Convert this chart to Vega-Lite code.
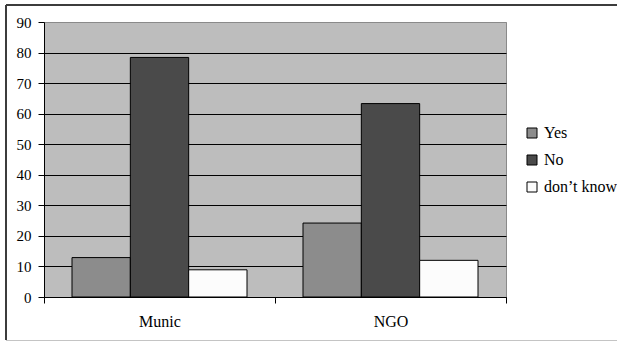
{
  "$schema": "https://vega.github.io/schema/vega-lite/v6.json",
  "width": 462,
  "height": 275,
  "autosize": {"type": "none"},
  "padding": {"left": 44, "top": 22, "right": 111, "bottom": 44},
  "background": "white",
  "config": {
    "font": "Liberation Serif, serif",
    "axis": {"labelFont": "Liberation Serif, serif"},
    "legend": {"labelFont": "Liberation Serif, serif", "labelLimit": 200},
    "view": {"fill": "#bdbdbd", "stroke": "#8a8a8a", "strokeWidth": 1}
  },
  "data": {
    "values": [
      {"group": "Munic", "answer": "Yes", "percent": 12.9},
      {"group": "Munic", "answer": "No", "percent": 78.4},
      {"group": "Munic", "answer": "don’t know", "percent": 8.9},
      {"group": "NGO", "answer": "Yes", "percent": 24.2},
      {"group": "NGO", "answer": "No", "percent": 63.3},
      {"group": "NGO", "answer": "don’t know", "percent": 12.0}
    ]
  },
  "layer": [
    {
      "mark": {"type": "bar", "stroke": "black", "strokeWidth": 1},
      "encoding": {
        "x": {
          "field": "group",
          "type": "nominal",
          "sort": ["Munic", "NGO"],
          "scale": {"paddingInner": 0, "paddingOuter": 0},
          "axis": {
            "title": null,
            "labelAngle": 0,
            "labelFontSize": 16,
            "labelColor": "black",
            "labelPadding": 10,
            "tickBand": "extent",
            "tickSize": 6,
            "tickColor": "black",
            "domainColor": "black",
            "grid": false
          }
        },
        "xOffset": {
          "field": "answer",
          "type": "nominal",
          "sort": ["Yes", "No", "don’t know"],
          "scale": {"paddingInner": 0, "paddingOuter": 0.48}
        },
        "y": {
          "field": "percent",
          "type": "quantitative",
          "scale": {"domain": [0, 90], "nice": false},
          "axis": {
            "title": null,
            "values": [0, 10, 20, 30, 40, 50, 60, 70, 80, 90],
            "labelFontSize": 15,
            "labelColor": "black",
            "labelPadding": 7,
            "tickSize": 6,
            "tickColor": "black",
            "domainColor": "black",
            "grid": true,
            "gridColor": {"condition": {"test": "datum.value >= 90", "value": "#8a8a8a"}, "value": "black"},
            "gridWidth": 1,
            "gridOpacity": 1
          }
        },
        "color": {
          "field": "answer",
          "type": "nominal",
          "sort": ["Yes", "No", "don’t know"],
          "scale": {
            "domain": ["Yes", "No", "don’t know"],
            "range": ["#8c8c8c", "#4a4a4a", "#fcfcfc"]
          },
          "legend": {
            "title": null,
            "orient": "none",
            "legendX": 480,
            "legendY": 103,
            "symbolType": "square",
            "symbolSize": 100,
            "symbolStrokeColor": "black",
            "symbolStrokeWidth": 1,
            "symbolOpacity": 1,
            "labelFontSize": 16,
            "labelColor": "black",
            "labelOffset": 4,
            "rowPadding": 11
          }
        }
      }
    },
    {
      "mark": {"type": "rule", "stroke": "#3c3c3c", "strokeWidth": 2},
      "encoding": {"x": {"value": -38}, "y": {"value": -17}, "y2": {"value": 318}}
    },
    {
      "mark": {"type": "rule", "stroke": "#3c3c3c", "strokeWidth": 2},
      "encoding": {"x": {"value": -38}, "x2": {"value": 580}, "y": {"value": -17}}
    },
    {
      "mark": {"type": "rule", "stroke": "#c4c4c4", "strokeWidth": 1},
      "encoding": {"x": {"value": -38}, "x2": {"value": 580}, "y": {"value": 318.5}}
    }
  ]
}
